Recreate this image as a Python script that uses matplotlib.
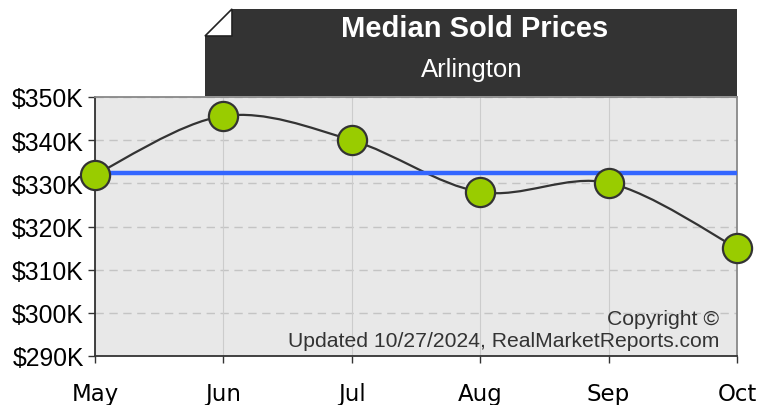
import numpy as np
import matplotlib
matplotlib.use("Agg")
import matplotlib.pyplot as plt
from matplotlib.path import Path
from matplotlib.patches import PathPatch, Polygon

months = ["May", "Jun", "Jul", "Aug", "Sep", "Oct"]
prices = [332.0, 345.6, 340.0, 328.0, 330.1, 315.0]   # $K
average = 332.4                                      # $K
yticks = [290, 300, 310, 320, 330, 340, 350]
ytick_labels = ["$290K", "$300K", "$310K", "$320K", "$330K", "$340K", "$350K"]
title = "Median Sold Prices"
subtitle = "Arlington"
note = "Copyright ©\nUpdated 10/27/2024, RealMarketReports.com"

W, H = 758, 406
fig = plt.figure(figsize=(W / 100, H / 100), dpi=100)
L, R, T, B = 95, 737, 98, 357
ax = fig.add_axes([L / W, 1 - B / H, (R - L) / W, (B - T) / H])
ax.set_facecolor("#e8e8e8")

x = np.arange(len(months))
ax.set_xlim(0, len(months) - 1)
ax.set_ylim(290, 350)

# grid
for yv in yticks:
    ax.axhline(yv, color="#c4c4c4", lw=1, ls=(0, (6, 4)), zorder=1)
for xv in x:
    ax.axvline(xv, color="#cccccc", lw=0.8, zorder=1)

# smooth curve through points (Catmull-Rom style bezier)
pts = np.column_stack([x, prices]).astype(float)
verts = [tuple(pts[0])]
codes = [Path.MOVETO]
k = 1 / 6.0
for i in range(len(pts) - 1):
    p0 = pts[i - 1] if i > 0 else pts[i]
    p1 = pts[i]
    p2 = pts[i + 1]
    p3 = pts[i + 2] if i + 2 < len(pts) else pts[i + 1]
    c1 = p1 + (p2 - p0) * k
    c2 = p2 - (p3 - p1) * k
    verts += [tuple(c1), tuple(c2), tuple(p2)]
    codes += [Path.CURVE4] * 3
ax.add_patch(PathPatch(Path(verts, codes), fill=False, edgecolor="#333333", lw=1.6, zorder=3))

ax.plot([x[0], x[-1]], [average, average], color="#3366ff", lw=3.2, zorder=4, solid_capstyle="butt")
ax.plot(x, prices, ls="none", marker="o", ms=21, mfc="#99cc00", mec="#333333", mew=1.6,
        zorder=5, clip_on=False)

ax.set_yticks(yticks)
ax.set_yticklabels(ytick_labels, fontfamily="Liberation Sans", fontsize=17.8)
ax.set_xticks(x)
ax.set_xticklabels(months, fontfamily="DejaVu Sans", fontsize=16.5)
ax.tick_params(axis="y", length=5, width=1, color="#333333", pad=3)
ax.tick_params(axis="x", length=5, width=1, color="#333333", pad=14)

for s in ["left", "bottom"]:
    ax.spines[s].set_color("#333333")
    ax.spines[s].set_linewidth(1.3)
for s in ["top", "right"]:
    ax.spines[s].set_color("#888888")
    ax.spines[s].set_linewidth(1.3)

ax.text(0.972, 0.025, note, transform=ax.transAxes, ha="right", va="bottom",
        fontfamily="Liberation Sans", fontsize=15.2, color="#333333",
        multialignment="right", linespacing=1.15, zorder=6)

# title box with folded corner
def fx(px):
    return px / W

def fy(py):
    return 1 - py / H

box = Polygon([(fx(205), fy(37)), (fx(232), fy(10)), (fx(737), fy(10)),
               (fx(737), fy(97)), (fx(205), fy(97))], closed=True,
              transform=fig.transFigure, facecolor="#333333", edgecolor="none")
fig.patches.append(box)
fold = Polygon([(fx(205), fy(37)), (fx(232), fy(10)), (fx(232), fy(37))], closed=True,
               transform=fig.transFigure, facecolor="white", edgecolor="#222222", lw=1.2)
fig.patches.append(fold)
fig.text(fx(475), fy(29), title, ha="center", va="center", color="white",
         fontfamily="Liberation Sans", fontweight="bold", fontsize=21)
fig.text(fx(472), fy(70), subtitle, ha="center", va="center", color="white",
         fontfamily="Liberation Sans", fontsize=18.5)

fig.savefig("out.png", dpi=100)
